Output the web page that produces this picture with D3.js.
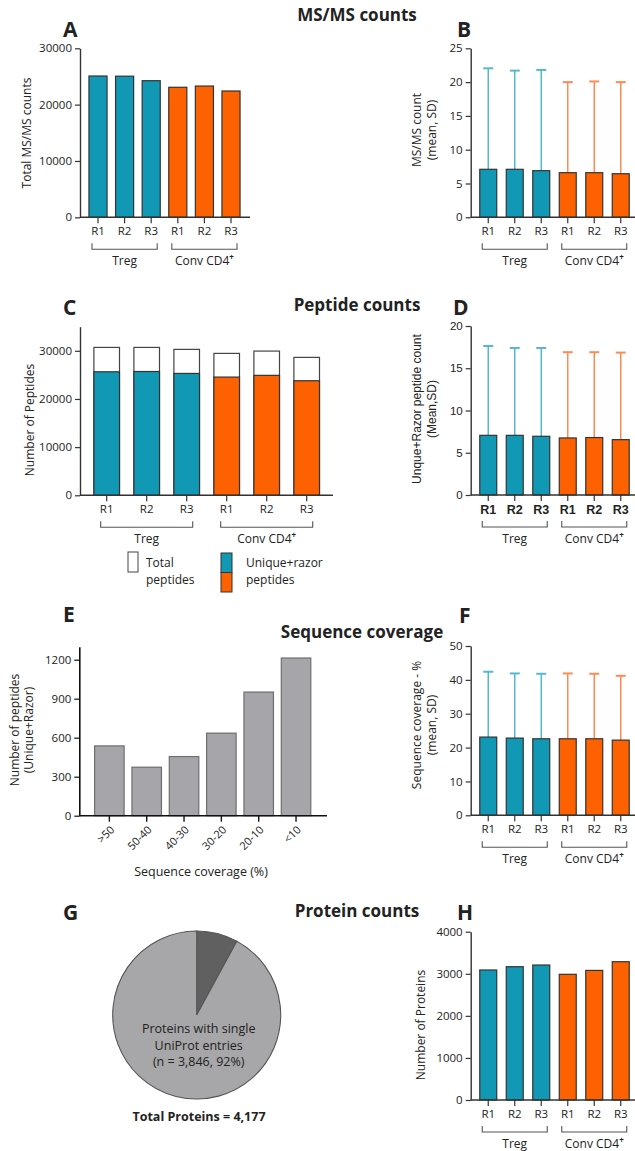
<!DOCTYPE html>
<html>
<head>
<meta charset="utf-8">
<script src="https://d3js.org/d3.v7.min.js"></script>
<style>
  body { margin: 0; background: #fff; }
  text { font-family: "Open Sans", sans-serif; fill: #222; }
</style>
</head>
<body>
<script>
// ---- data ----
var samples = ["Treg R1", "Treg R2", "Treg R3", "Conv R1", "Conv R2", "Conv R3"];
var sampleLabels = ["R1", "R2", "R3", "R1", "R2", "R3"];
var groups = ["Treg", "Conv"];

var msmsTotal = [25080, 25050, 24250, 23080, 23300, 22420];
var msmsMean = [7.1, 7.1, 6.9, 6.6, 6.6, 6.45];
var msmsSD = [14.94, 14.6, 14.9, 13.4, 13.5, 13.55];

var peptideTotal = [30700, 30700, 30290, 29460, 29940, 28630];
var peptideUnique = [25640, 25700, 25300, 24540, 24900, 23780];
var peptideMean = [7.06, 7.06, 6.95, 6.75, 6.8, 6.55];
var peptideSD = [10.57, 10.34, 10.45, 10.15, 10.1, 10.3];

var coverageBins = [">50", "50-40", "40-30", "30-20", "20-10", "<10"];
var coverageCounts = [537, 373, 455, 635, 951, 1213];
var coverageMean = [23.1, 22.8, 22.6, 22.6, 22.6, 22.2];
var coverageSD = [19.3, 19.1, 19.2, 19.3, 19.2, 19.0];

var proteinSlices = ["Multiple UniProt entries", "Single UniProt entries"];
var proteinSliceCounts = [331, 3846];
var proteinCounts = [3090, 3168, 3208, 2987, 3080, 3287];

var teal = "#1198b4", orange = "#fe6100";
var tealLight = "#52bacf", orangeLight = "#fd8b56";
var axisCol = "#333";

var svg = d3.select("body").append("svg")
    .attr("width", 635)
    .attr("height", 1151);

function groupOf(i) { return i < 3 ? 0 : 1; }

// generic replicate bar panel
function barPanel(p) {
    var g = svg.append("g");
    var font = p.font || "Open Sans, sans-serif";
    var x = d3.scaleBand().domain(samples)
        .range([p.bandStart, p.bandEnd])
        .paddingInner(p.pad).paddingOuter(p.pad / 2);
    var y = d3.scaleLinear().domain(p.domain).range([p.base, p.top]);

    // y axis
    var ya = g.append("g")
        .attr("transform", "translate(" + p.axisX + ",0)")
        .call(d3.axisLeft(y).tickValues(p.ticks).tickFormat(d3.format("d"))
            .tickSize(5).tickPadding(3).tickSizeOuter(0));
    ya.select(".domain").attr("stroke", axisCol).attr("stroke-width", 1.4);
    ya.selectAll(".tick line").attr("stroke", axisCol).attr("stroke-width", 1.2);
    ya.selectAll(".tick text").style("font-family", font).style("font-size", "11.5px").attr("fill", "#222");

    // error bars (upper only)
    if (p.sd) {
        var eb = g.append("g");
        samples.forEach(function (s, i) {
            var cx = x(s) + x.bandwidth() / 2;
            var col = groupOf(i) ? orangeLight : tealLight;
            eb.append("line").attr("x1", cx).attr("x2", cx)
                .attr("y1", y(p.values[i])).attr("y2", y(p.values[i] + p.sd[i]))
                .attr("stroke", col).attr("stroke-width", 1.5);
            eb.append("line").attr("x1", cx - 5).attr("x2", cx + 5)
                .attr("y1", y(p.values[i] + p.sd[i])).attr("y2", y(p.values[i] + p.sd[i]))
                .attr("stroke", col).attr("stroke-width", 2);
        });
    }

    // total (white) bars behind
    if (p.totals) {
        g.selectAll(".tot").data(p.totals).enter().append("rect")
            .attr("x", function (d, i) { return x(samples[i]); })
            .attr("width", x.bandwidth())
            .attr("y", function (d) { return y(d); })
            .attr("height", function (d) { return y(0) - y(d); })
            .attr("fill", "#fff").attr("stroke", "#444").attr("stroke-width", 1.2);
    }

    g.selectAll(".bar").data(p.values).enter().append("rect")
        .attr("x", function (d, i) { return x(samples[i]); })
        .attr("width", x.bandwidth())
        .attr("y", function (d) { return y(d); })
        .attr("height", function (d) { return y(0) - y(d); })
        .attr("fill", function (d, i) { return groupOf(i) ? orange : teal; })
        .attr("stroke", "#333").attr("stroke-width", 1.2);

    // x axis
    var xa = g.append("g").attr("transform", "translate(0," + p.base + ")")
        .call(d3.axisBottom(x).tickSize(6).tickPadding(4)
            .tickFormat(function (d, i) { return sampleLabels[i]; }));
    xa.select(".domain").remove();
    xa.selectAll(".tick line").attr("stroke", axisCol).attr("stroke-width", 1.2);
    xa.selectAll(".tick text").style("font-family", font)
        .style("font-size", p.boldX ? "12.5px" : "11.5px")
        .style("font-weight", p.boldX ? "bold" : "normal").attr("fill", "#222");
    g.append("line").attr("x1", p.axisX).attr("x2", p.axisEnd)
        .attr("y1", p.base).attr("y2", p.base)
        .attr("stroke", axisCol).attr("stroke-width", 1.4);

    // group brackets
    groups.forEach(function (gr, k) {
        var a = x(samples[k * 3]) + x.bandwidth() / 2 - 6;
        var b = x(samples[k * 3 + 2]) + x.bandwidth() / 2 + 6;
        var yb = p.base + 32;
        g.append("path")
            .attr("d", "M" + a + "," + (yb - 6) + "V" + yb + "H" + b + "V" + (yb - 6))
            .attr("fill", "none").attr("stroke", "#555").attr("stroke-width", 1.1);
        var t = g.append("text").attr("x", (a + b) / 2).attr("y", p.base + 47.5)
            .attr("text-anchor", "middle").style("font-size", "12px");
        if (k === 0) {
            t.text("Treg");
        } else {
            t.append("tspan").text("Conv CD4");
            t.append("tspan").text("+").attr("dy", -5).style("font-size", "8px").style("font-weight", "bold");
        }
    });

    // y title
    var yt = svg.append("text")
        .attr("transform", "translate(" + p.titleX + "," + p.titleY + ") rotate(-90)")
        .attr("text-anchor", "middle")
        .style("font-family", font)
        .style("font-size", "12px");
    p.title.forEach(function (line, i) {
        yt.append("tspan").attr("x", 0).attr("dy", i === 0 ? 0 : 15).text(line);
    });
    return { x: x, y: y };
}

function letter(t, x, y) {
    svg.append("text").attr("x", x).attr("y", y).text(t)
        .style("font-size", "21px").style("font-weight", "bold").attr("fill", "#111");
}
function heading(t, x, y) {
    svg.append("text").attr("x", x).attr("y", y).text(t).attr("text-anchor", "middle")
        .style("font-size", "17px").style("font-weight", "bold").attr("fill", "#111");
}

// ---- A ----
letter("A", 63, 37);
heading("MS/MS counts", 357, 21);
barPanel({ bandStart: 84.7, bandEnd: 244.3, pad: 0.32, axisX: 80, axisEnd: 250,
    base: 217.3, top: 48.3, domain: [0, 30000], ticks: [0, 10000, 20000, 30000],
    values: msmsTotal, title: ["Total MS/MS counts"], titleX: 31, titleY: 133 });

// ---- B ----
letter("B", 457, 37);
barPanel({ bandStart: 475, bandEnd: 634, pad: 0.36, axisX: 470.7, axisEnd: 635,
    base: 217.3, top: 48.3, domain: [0, 25], ticks: [0, 5, 10, 15, 20, 25],
    values: msmsMean, sd: msmsSD, title: ["MS/MS count", "(mean, SD)"], titleX: 421, titleY: 130 });

// ---- C ----
letter("C", 63, 315);
heading("Peptide counts", 357, 311);
barPanel({ bandStart: 86.7, bandEnd: 326.7, pad: 0.36, axisX: 80, axisEnd: 333,
    base: 495.3, top: 326.7, domain: [0, 35000], ticks: [0, 10000, 20000, 30000],
    values: peptideUnique, totals: peptideTotal, title: ["Number of Peptides"], titleX: 34, titleY: 420 });

// legend for C
svg.append("rect").attr("x", 128).attr("y", 552).attr("width", 10).attr("height", 20)
    .attr("fill", "#fff").attr("stroke", "#444").attr("stroke-width", 1);
svg.append("rect").attr("x", 221).attr("y", 553).attr("width", 11).attr("height", 19.5)
    .attr("fill", teal).attr("stroke", "#333").attr("stroke-width", 1);
svg.append("rect").attr("x", 221).attr("y", 572.5).attr("width", 11).attr("height", 19.5)
    .attr("fill", orange).attr("stroke", "#333").attr("stroke-width", 1);
[["Total", "peptides", 146], ["Unique+razor", "peptides", 246]].forEach(function (l) {
    var t = svg.append("text").attr("y", 567).style("font-size", "12px");
    t.append("tspan").attr("x", l[2]).text(l[0]);
    t.append("tspan").attr("x", l[2]).attr("dy", 16.5).text(l[1]);
});

// ---- D ----
letter("D", 453, 315);
barPanel({ bandStart: 475, bandEnd: 634, pad: 0.36, axisX: 470.7, axisEnd: 635,
    base: 495, top: 326, domain: [0, 20], ticks: [0, 5, 10, 15, 20],
    values: peptideMean, sd: peptideSD, font: "Liberation Sans, Arial, sans-serif", boldX: true,
    title: ["Unque+Razor peptide count", "(Mean,SD)"], titleX: 421, titleY: 409 });

// ---- E ----
letter("E", 63, 622);
heading("Sequence coverage", 362, 638);
(function () {
    var g = svg.append("g");
    var x = d3.scaleBand().domain(coverageBins).range([90.7, 314.7]).paddingInner(0.21).paddingOuter(0.105);
    var y = d3.scaleLinear().domain([0, 1300]).range([815.7, 646.7]);
    var ya = g.append("g").attr("transform", "translate(79.3,0)")
        .call(d3.axisLeft(y).tickValues([0, 300, 600, 900, 1200]).tickFormat(d3.format("d"))
            .tickSize(5).tickPadding(3).tickSizeOuter(0));
    ya.select(".domain").attr("stroke", "#111").attr("stroke-width", 1.6);
    ya.selectAll(".tick line").attr("stroke", "#111").attr("stroke-width", 1.2);
    ya.selectAll(".tick text").style("font-size", "11.5px").attr("fill", "#222");

    g.selectAll(".cov").data(coverageCounts).enter().append("rect")
        .attr("x", function (d, i) { return x(coverageBins[i]); })
        .attr("width", x.bandwidth())
        .attr("y", function (d) { return y(d); })
        .attr("height", function (d) { return y(0) - y(d); })
        .attr("fill", "#a6a5aa").attr("stroke", "#6e6e6e").attr("stroke-width", 1.2);

    var xa = g.append("g").attr("transform", "translate(0,815.7)")
        .call(d3.axisBottom(x).tickSize(6));
    xa.select(".domain").remove();
    xa.selectAll(".tick line").attr("stroke", "#111").attr("stroke-width", 1.4);
    xa.selectAll(".tick text")
        .attr("x", 0).attr("y", 0).attr("dy", "0.35em")
        .attr("transform", "translate(3,12) rotate(-45)")
        .attr("text-anchor", "end").style("font-size", "11px").attr("fill", "#222");
    g.append("line").attr("x1", 79.3).attr("x2", 327).attr("y1", 815.7).attr("y2", 815.7)
        .attr("stroke", "#111").attr("stroke-width", 1.6);

    svg.append("text").attr("x", 201).attr("y", 876).attr("text-anchor", "middle")
        .style("font-size", "12.5px").text("Sequence coverage (%)");
    var yt = svg.append("text").attr("transform", "translate(19,730) rotate(-90)")
        .attr("text-anchor", "middle").style("font-size", "12px");
    yt.append("tspan").attr("x", 0).text("Number of peptides");
    yt.append("tspan").attr("x", 0).attr("dy", 14).text("(Unique+Razor)");
})();

// ---- F ----
letter("F", 459, 623);
barPanel({ bandStart: 475, bandEnd: 634, pad: 0.36, axisX: 470.7, axisEnd: 635,
    base: 815.3, top: 646, domain: [0, 50], ticks: [0, 10, 20, 30, 40, 50],
    values: coverageMean, sd: coverageSD,
    title: ["Sequence coverage - %", "(mean, SD)"], titleX: 421, titleY: 725 });

// ---- G ----
letter("G", 63, 920);
heading("Protein counts", 357, 917);
(function () {
    var pie = d3.pie().sort(null)(proteinSliceCounts);
    var arc = d3.arc().innerRadius(0).outerRadius(84);
    var g = svg.append("g").attr("transform", "translate(196.7,1015)");
    g.selectAll("path").data(pie).enter().append("path")
        .attr("d", arc)
        .attr("fill", function (d, i) { return i === 0 ? "#606060" : "#a7a7a9"; })
        .attr("stroke", "#555").attr("stroke-width", 1.1);
    var total = d3.sum(proteinSliceCounts);
    var single = proteinSliceCounts[1];
    var t = g.append("text").attr("text-anchor", "middle").attr("y", 18).style("font-size", "12.5px").attr("fill", "#222");
    t.append("tspan").attr("x", 2).text("Proteins with single");
    t.append("tspan").attr("x", 2).attr("dy", 16.5).text("UniProt entries");
    t.append("tspan").attr("x", 2).attr("dy", 16.5)
        .text("(n = " + d3.format(",")(single) + ", " + Math.round(single / total * 100) + "%)");
    svg.append("text").attr("x", 199).attr("y", 1121).attr("text-anchor", "middle")
        .style("font-size", "12.5px").style("font-weight", "bold").attr("fill", "#111")
        .text("Total Proteins = " + d3.format(",")(total));
})();

// ---- H ----
letter("H", 457, 920);
barPanel({ bandStart: 475, bandEnd: 634, pad: 0.36, axisX: 470.7, axisEnd: 635,
    base: 1100, top: 931.7, domain: [0, 4000], ticks: [0, 1000, 2000, 3000, 4000],
    values: proteinCounts, title: ["Number of Proteins"], titleX: 425, titleY: 1025 });
</script>
</body>
</html>
